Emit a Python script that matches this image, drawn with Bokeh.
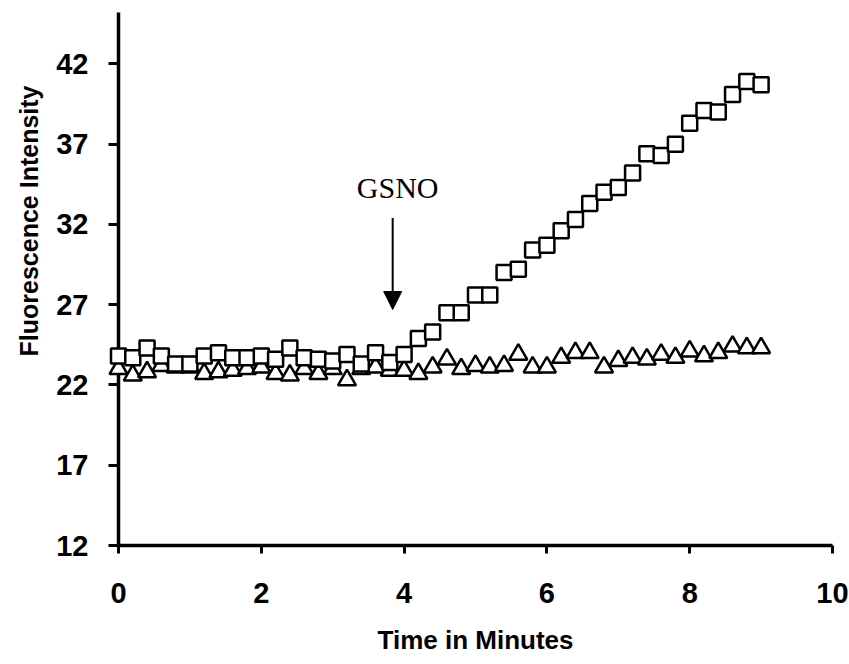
from bokeh.plotting import figure
from bokeh.models import Range1d, FixedTicker, Label, Arrow, NormalHead, Title
from bokeh.embed import file_html
from bokeh.resources import INLINE

# ---- data ----
time_min = [0.0, 0.2, 0.4, 0.6, 0.8, 1.0, 1.2, 1.4, 1.6, 1.8,
            2.0, 2.2, 2.4, 2.6, 2.8, 3.0, 3.2, 3.4, 3.6, 3.8,
            4.0, 4.2, 4.4, 4.6, 4.8, 5.0, 5.2, 5.4, 5.6, 5.8,
            6.0, 6.2, 6.4, 6.6, 6.8, 7.0, 7.2, 7.4, 7.6, 7.8,
            8.0, 8.2, 8.4, 8.6, 8.8, 9.0]

squares = [23.8, 23.7, 24.3, 23.8, 23.3, 23.3, 23.8, 24.0, 23.7, 23.7,
           23.8, 23.6, 24.3, 23.7, 23.6, 23.5, 23.9, 23.3, 24.0, 23.4,
           23.9, 24.9, 25.3, 26.5, 26.5, 27.6, 27.6, 29.0, 29.2, 30.4,
           30.7, 31.6, 32.3, 33.3, 34.0, 34.3, 35.2, 36.4, 36.3, 37.0,
           38.3, 39.1, 39.0, 40.1, 40.9, 40.7]

triangles = [23.0, 22.6, 22.8, 23.2, 23.1, 23.1, 22.7, 22.8, 22.9, 23.0,
             23.1, 22.7, 22.6, 23.0, 22.7, 23.0, 22.3, 23.0, 23.1, 22.9,
             22.9, 22.7, 23.1, 23.6, 23.0, 23.2, 23.1, 23.2, 23.9, 23.1,
             23.1, 23.7, 24.0, 24.0, 23.1, 23.5, 23.7, 23.6, 23.9, 23.7,
             24.1, 23.8, 24.0, 24.4, 24.3, 24.3]

x_ticks = [0, 2, 4, 6, 8, 10]
y_ticks = [12, 17, 22, 27, 32, 37, 42]

x_title = "Time in Minutes"
y_title = "Fluorescence Intensity"
annot_text = "GSNO"
annot_x = 3.84
annot_text_y = 34.3
arrow_top = 32.4
arrow_tip = 26.7

SANS = "Liberation Sans"
SERIF = "Liberation Serif"

p = figure(width=849, height=664, output_backend="svg", toolbar_location=None,
           x_range=Range1d(0, 10), y_range=Range1d(12, 45.2),
           min_border_left=118, min_border_right=17, min_border_top=12,
           min_border_bottom=119)
p.outline_line_color = None
p.xgrid.visible = False
p.ygrid.visible = False
p.background_fill_color = "white"
p.border_fill_color = "white"

for ax in (p.xaxis[0], p.yaxis[0]):
    ax.axis_line_width = 3.5
    ax.axis_line_color = "black"
    ax.major_tick_line_width = 3
    ax.major_tick_line_color = "black"
    ax.major_tick_in = 0
    ax.minor_tick_line_color = None
    ax.major_label_text_font = SANS
    ax.major_label_text_font_style = "bold"
    ax.major_label_text_font_size = "29px"
    ax.major_label_text_color = "black"

p.xaxis.ticker = FixedTicker(ticks=x_ticks)
p.yaxis.ticker = FixedTicker(ticks=y_ticks)
p.xaxis.major_tick_out = 8
p.yaxis.major_tick_out = 10
p.xaxis.major_label_standoff = 29
p.yaxis.major_label_standoff = 20

p.xaxis.axis_label = x_title
p.xaxis.axis_label_text_font = SANS
p.xaxis.axis_label_text_font_style = "bold"
p.xaxis.axis_label_text_font_size = "26px"
p.xaxis.axis_label_text_color = "black"
p.xaxis.axis_label_standoff = 19

p.add_layout(Title(text=y_title, align="right", offset=73, standoff=22,
                   text_font=SANS, text_font_style="bold", text_font_size="25px",
                   text_color="black"), "left")

# series (overlay level so the markers at x=0 sit on top of the axis unclipped)
p.scatter(time_min, triangles, marker="triangle", size=18, fill_color="white",
          line_color="black", line_width=2.5, level="overlay")
p.scatter(time_min, squares, marker="square", size=15, fill_color="white",
          line_color="black", line_width=2.5, level="overlay")

# annotation
p.add_layout(Label(x=annot_x + 0.07, y=annot_text_y, text=annot_text,
                   text_font=SERIF, text_font_size="30px", text_color="black",
                   text_align="center", text_baseline="middle"))
p.add_layout(Arrow(x_start=annot_x, y_start=arrow_top, x_end=annot_x, y_end=arrow_tip,
                   line_width=2, line_color="black",
                   end=NormalHead(size=18, fill_color="black", line_color="black")))

open("out.html", "w").write(file_html(p, INLINE))
